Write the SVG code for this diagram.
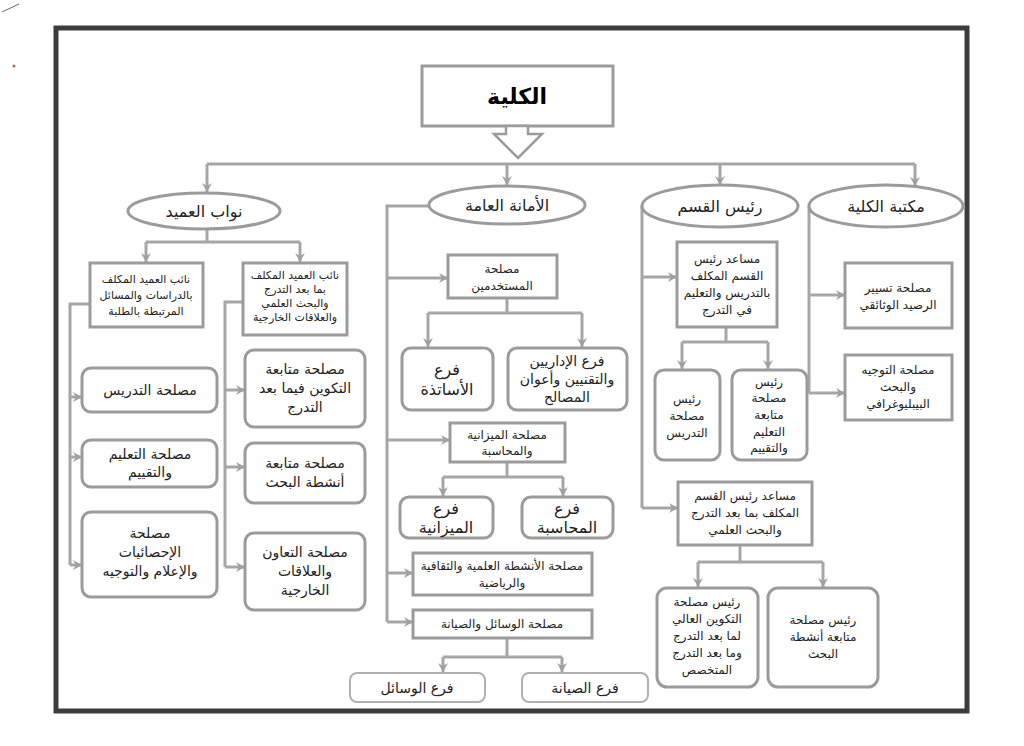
<svg xmlns="http://www.w3.org/2000/svg" width="1024" height="746" viewBox="0 0 1024 746">
<style>
.ln{fill:none;stroke:#a6a6a6;stroke-width:3}
.a{marker-end:url(#ah)}
.bx{fill:#fff;stroke:#9b9b9b;stroke-width:3}
.lt{fill:#fff;stroke:#b0b0b0;stroke-width:2}
.t{font-family:"DejaVu Sans","Liberation Sans",sans-serif;fill:#222;text-anchor:middle;font-size:12px}
.s{font-size:11px}
.m{font-size:14px}
.l{font-size:16px}
</style>
<defs>
<marker id="ah" markerUnits="userSpaceOnUse" markerWidth="12" markerHeight="12" refX="10" refY="6" orient="auto">
<path d="M1,1 L10,6 L1,11 L4,6 Z" fill="#a0a0a0"/>
</marker>
</defs>
<rect width="1024" height="746" fill="#fff"/>
<line x1="2" y1="12" x2="19" y2="4" stroke="#666" stroke-width="1"/>
<circle cx="14" cy="66" r="1.5" fill="#a07050"/>
<rect x="56" y="28" width="911" height="683" fill="none" stroke="#3c3c3c" stroke-width="5"/>

<g id="connectors">
<polyline class="ln" points="207,164 915,164"/>
<line class="ln a" x1="207" y1="164" x2="207" y2="192"/>
<line class="ln a" x1="507" y1="164" x2="507" y2="185"/>
<line class="ln a" x1="720" y1="164" x2="720" y2="185"/>
<line class="ln a" x1="915" y1="164" x2="915" y2="186"/>
<polyline class="ln" points="207,229 207,242"/>
<polyline class="ln" points="146,242 300,242"/>
<line class="ln a" x1="146" y1="242" x2="146" y2="262"/>
<line class="ln a" x1="300" y1="242" x2="300" y2="262"/>
<polyline class="ln" points="90,304 70,304 70,565"/>
<line class="ln a" x1="70" y1="397" x2="82" y2="397"/>
<line class="ln a" x1="70" y1="457" x2="82" y2="457"/>
<line class="ln a" x1="70" y1="565" x2="82" y2="565"/>
<polyline class="ln" points="243,302 225,302 225,567"/>
<line class="ln a" x1="225" y1="390" x2="245" y2="390"/>
<line class="ln a" x1="225" y1="467" x2="245" y2="467"/>
<line class="ln a" x1="225" y1="567" x2="245" y2="567"/>
<polyline class="ln" points="429,206 387,206 387,622"/>
<line class="ln a" x1="387" y1="278" x2="448" y2="278"/>
<line class="ln a" x1="387" y1="440" x2="450" y2="440"/>
<line class="ln a" x1="387" y1="573" x2="413" y2="573"/>
<line class="ln a" x1="387" y1="622" x2="413" y2="622"/>
<polyline class="ln" points="507,298 507,313"/>
<polyline class="ln" points="428,313 582,313"/>
<line class="ln a" x1="428" y1="313" x2="428" y2="347"/>
<line class="ln a" x1="582" y1="313" x2="582" y2="347"/>
<polyline class="ln" points="507,462 507,477"/>
<polyline class="ln" points="443,477 563,477"/>
<line class="ln a" x1="443" y1="477" x2="443" y2="496"/>
<line class="ln a" x1="563" y1="477" x2="563" y2="496"/>
<polyline class="ln" points="507,638 507,657"/>
<polyline class="ln" points="443,657 562,657"/>
<line class="ln a" x1="443" y1="657" x2="443" y2="672"/>
<line class="ln a" x1="562" y1="657" x2="562" y2="672"/>
<polyline class="ln" points="642,206 642,508"/>
<line class="ln a" x1="642" y1="277" x2="677" y2="277"/>
<line class="ln a" x1="642" y1="508" x2="678" y2="508"/>
<polyline class="ln" points="726,327 726,342"/>
<polyline class="ln" points="682,342 768,342"/>
<line class="ln a" x1="682" y1="342" x2="682" y2="369"/>
<line class="ln a" x1="768" y1="342" x2="768" y2="369"/>
<polyline class="ln" points="740,545 740,562"/>
<polyline class="ln" points="698,562 823,562"/>
<line class="ln a" x1="698" y1="562" x2="698" y2="587"/>
<line class="ln a" x1="823" y1="562" x2="823" y2="587"/>
<polyline class="ln" points="809,206 809,393"/>
<line class="ln a" x1="809" y1="295" x2="845" y2="295"/>
<line class="ln a" x1="809" y1="393" x2="845" y2="393"/>
</g>

<g id="kulliya">
<rect class="bx" x="422" y="66" width="191" height="60"/>
<polygon points="506,126 528,126 528,134 542,134 518,158 494,134 506,134" fill="#fff" stroke="#9b9b9b" stroke-width="2.5"/>
<text class="t" x="517" y="104" style="font-size:22px;font-weight:bold;fill:#000">الكلية</text>
</g>

<g id="nawab">
<ellipse class="bx" cx="204" cy="211" rx="76" ry="18"/>
<text class="t l" x="204" y="217">نواب العميد</text>
</g>
<g id="amana">
<ellipse class="bx" cx="507" cy="205" rx="78" ry="19"/>
<text class="t l" x="507" y="211">الأمانة العامة</text>
</g>
<g id="rais">
<ellipse class="bx" cx="720" cy="206" rx="78" ry="21"/>
<text class="t l" x="720" y="212">رئيس القسم</text>
</g>
<g id="maktaba">
<ellipse class="bx" cx="886" cy="206" rx="77" ry="21"/>
<text class="t l" x="886" y="212">مكتبة الكلية</text>
</g>

<g id="naib1">
<rect class="bx" x="90" y="263" width="113" height="64"/>
<text class="t s" x="146" y="283">نائب العميد المكلف</text>
<text class="t s" x="146" y="299">بالدراسات والمسائل</text>
<text class="t s" x="146" y="315">المرتبطة بالطلبة</text>
</g>
<g id="naib2">
<rect class="bx" x="243" y="263" width="104" height="72"/>
<text class="t s" x="295" y="279">نائب العميد المكلف</text>
<text class="t s" x="295" y="293">بما بعد التدرج</text>
<text class="t s" x="295" y="307">والبحث العلمي</text>
<text class="t s" x="295" y="321">والعلاقات الخارجية</text>
</g>
<g id="tadris">
<rect class="bx" x="82" y="368" width="135" height="44" rx="9"/>
<text class="t m" x="150" y="395">مصلحة التدريس</text>
</g>
<g id="taalim">
<rect class="bx" x="82" y="440" width="135" height="47" rx="9"/>
<text class="t m" x="150" y="459">مصلحة التعليم</text>
<text class="t m" x="150" y="477">والتقييم</text>
</g>
<g id="ihsa">
<rect class="bx" x="82" y="512" width="135" height="85" rx="9"/>
<text class="t m" x="150" y="538">مصلحة</text>
<text class="t m" x="150" y="557">الإحصائيات</text>
<text class="t m" x="150" y="576">والإعلام والتوجيه</text>
</g>
<g id="takwin">
<rect class="bx" x="245" y="350" width="120" height="77" rx="9"/>
<text class="t m" x="305" y="374">مصلحة متابعة</text>
<text class="t m" x="305" y="393">التكوين فيما بعد</text>
<text class="t m" x="305" y="412">التدرج</text>
</g>
<g id="bahth">
<rect class="bx" x="245" y="443" width="120" height="60" rx="9"/>
<text class="t m" x="305" y="468">مصلحة متابعة</text>
<text class="t m" x="305" y="487">أنشطة البحث</text>
</g>
<g id="taawun">
<rect class="bx" x="245" y="533" width="120" height="77" rx="9"/>
<text class="t m" x="305" y="557">مصلحة التعاون</text>
<text class="t m" x="305" y="576">والعلاقات</text>
<text class="t m" x="305" y="595">الخارجية</text>
</g>

<g id="mustakhdimin">
<rect class="bx" x="448" y="255" width="109" height="43"/>
<text class="t" x="502" y="273">مصلحة</text>
<text class="t" x="502" y="290">المستخدمين</text>
</g>
<g id="asatida">
<rect class="bx" x="402" y="348" width="91" height="62" rx="9"/>
<text class="t l" x="447" y="375">فرع</text>
<text class="t l" x="447" y="395">الأساتذة</text>
</g>
<g id="idariyin">
<rect class="bx" x="508" y="348" width="119" height="62" rx="9"/>
<text class="t m" x="567" y="366">فرع الإداريين</text>
<text class="t m" x="567" y="384">والتقنيين وأعوان</text>
<text class="t m" x="567" y="402">المصالح</text>
</g>
<g id="mizaniya">
<rect class="bx" x="450" y="423" width="115" height="39"/>
<text class="t" x="507" y="439">مصلحة الميزانية</text>
<text class="t" x="507" y="455">والمحاسبة</text>
</g>
<g id="far_mizaniya">
<rect class="bx" x="400" y="497" width="93" height="41" rx="9"/>
<text class="t l" x="446" y="514">فرع</text>
<text class="t l" x="446" y="533">الميزانية</text>
</g>
<g id="far_muhasaba">
<rect class="bx" x="522" y="497" width="91" height="41" rx="9"/>
<text class="t l" x="567" y="514">فرع</text>
<text class="t l" x="567" y="533">المحاسبة</text>
</g>
<g id="anshita">
<rect class="bx" x="413" y="553" width="179" height="42"/>
<text class="t" x="502" y="570">مصلحة الأنشطة العلمية والثقافية</text>
<text class="t" x="502" y="587">والرياضية</text>
</g>
<g id="wasail">
<rect class="bx" x="413" y="610" width="179" height="28"/>
<text class="t" x="502" y="628">مصلحة الوسائل والصيانة</text>
</g>
<g id="far_wasail">
<rect class="lt" x="350" y="673" width="135" height="29" rx="7"/>
<text class="t m" x="417" y="693">فرع الوسائل</text>
</g>
<g id="far_siyana">
<rect class="lt" x="522" y="673" width="126" height="29" rx="7"/>
<text class="t m" x="585" y="693">فرع الصيانة</text>
</g>

<g id="musaid1">
<rect class="bx" x="677" y="242" width="100" height="85"/>
<text class="t" x="727" y="263">مساعد رئيس</text>
<text class="t" x="727" y="280">القسم المكلف</text>
<text class="t" x="727" y="297">بالتدريس والتعليم</text>
<text class="t" x="727" y="314">في التدرج</text>
</g>
<g id="rais_tadris">
<rect class="bx" x="655" y="370" width="65" height="90" rx="9"/>
<text class="t" x="687" y="403">رئيس</text>
<text class="t" x="687" y="420">مصلحة</text>
<text class="t" x="687" y="437">التدريس</text>
</g>
<g id="rais_taalim">
<rect class="bx" x="732" y="370" width="75" height="90" rx="9"/>
<text class="t" x="769" y="386">رئيس</text>
<text class="t" x="769" y="402">مصلحة</text>
<text class="t" x="769" y="419">متابعة</text>
<text class="t" x="769" y="436">التعليم</text>
<text class="t" x="769" y="452">والتقييم</text>
</g>
<g id="musaid2">
<rect class="bx" x="678" y="482" width="134" height="63"/>
<text class="t" x="745" y="500">مساعد رئيس القسم</text>
<text class="t" x="745" y="517">المكلف بما بعد التدرج</text>
<text class="t" x="745" y="534">والبحث العلمي</text>
</g>
<g id="rais_takwin">
<rect class="bx" x="657" y="588" width="101" height="99" rx="10"/>
<text class="t" x="707" y="606">رئيس مصلحة</text>
<text class="t" x="707" y="623">التكوين العالي</text>
<text class="t" x="707" y="640">لما بعد التدرج</text>
<text class="t" x="707" y="657">وما بعد التدرج</text>
<text class="t" x="707" y="674">المتخصص</text>
</g>
<g id="rais_bahth">
<rect class="bx" x="768" y="588" width="110" height="99" rx="10"/>
<text class="t" x="823" y="624">رئيس مصلحة</text>
<text class="t" x="823" y="641">متابعة أنشطة</text>
<text class="t" x="823" y="658">البحث</text>
</g>

<g id="rasid">
<rect class="bx" x="845" y="263" width="107" height="65"/>
<text class="t" x="898" y="292">مصلحة تسيير</text>
<text class="t" x="898" y="309">الرصيد الوثائقي</text>
</g>
<g id="tawjih">
<rect class="bx" x="845" y="355" width="107" height="65"/>
<text class="t" x="898" y="374">مصلحة التوجيه</text>
<text class="t" x="898" y="391">والبحث</text>
<text class="t" x="898" y="408">البيبليوغرافي</text>
</g>
</svg>
